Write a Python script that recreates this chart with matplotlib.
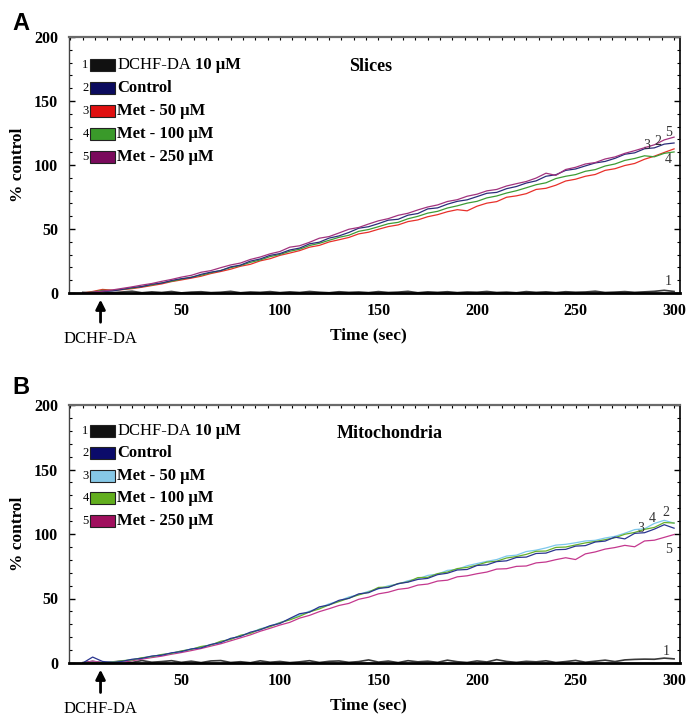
import numpy as np
import matplotlib
matplotlib.use("Agg")
import matplotlib.pyplot as plt
from matplotlib.patches import Rectangle
from matplotlib.ticker import MultipleLocator

plt.rcParams['font.family'] = ['Liberation Serif', 'DejaVu Serif']

# ---------------- data ----------------
time_s = np.arange(0, 301, 5)

legend_labels = ["DCHF-DA", "Control", "Met - 50 \u03bcM", "Met - 100 \u03bcM", "Met - 250 \u03bcM"]
legend_numbers = ["1", "2", "3", "4", "5"]

# Panel A: Slices
A_dchf = [0.5, 0.2, 1.1, 0.3, 0.8, 1.4, 0.2, 0.9, 0.4, 1.2, 0.1, 0.7, 1.0, 0.3, 0.6, 1.3, 0.2, 0.8, 0.5, 1.1,
          0.3, 0.9, 0.4, 1.2, 0.6, 0.2, 1.0, 0.5, 0.8, 0.3, 1.1, 0.4, 0.7, 1.3, 0.2, 0.9, 0.5, 1.0, 0.3, 0.8,
          0.6, 1.2, 0.4, 0.7, 0.2, 1.1, 0.5, 0.9, 0.3, 1.0, 0.6, 0.8, 1.4, 0.4, 0.7, 1.1, 0.5, 0.9, 1.3, 2.1, 1.2]
A_ctrl = [0, 0.4, 1.3, 1.6, 2.8, 4.3, 5.0, 6.9, 7.7, 9.8, 11.2, 12.1, 14.6, 16.3, 17.5, 20.4, 21.8, 24.9, 26.6, 29.4,
          30.8, 33.6, 35.1, 38.4, 39.7, 42.9, 44.6, 47.3, 50.6, 51.8, 54.2, 56.9, 57.6, 60.8, 62.1, 65.7, 66.5, 69.4,
          71.6, 72.8, 75.3, 77.9, 78.6, 81.5, 83.2, 85.9, 87.6, 91.2, 92.4, 95.8, 96.9, 99.3, 101.6, 102.8, 105.2,
          108.4, 109.5, 112.7, 113.4, 116.3, 117.2]
A_met50 = [0, 1.2, 2.8, 2.2, 2.6, 3.4, 4.5, 5.8, 7.1, 8.9, 10.2, 11.6, 13.1, 15.2, 16.8, 18.6, 20.9, 22.4, 25.1, 26.8,
           29.4, 31.2, 33.1, 35.8, 37.2, 39.9, 41.6, 43.4, 46.2, 47.5, 49.8, 51.9, 53.2, 55.8, 57.1, 59.6, 61.2, 63.5,
           65.1, 64.2, 67.8, 70.2, 71.4, 74.8, 75.9, 77.6, 80.9, 81.8, 84.2, 87.5, 88.9, 91.2, 92.6, 95.8, 97.1, 99.6,
           101.2, 104.5, 106.9, 109.8, 112.6]
A_met100 = [0, 0.8, 2.1, 1.9, 2.9, 3.8, 5.1, 6.3, 7.9, 9.2, 10.8, 12.4, 13.9, 15.8, 17.6, 19.8, 21.5, 23.9, 25.8, 28.4,
            30.1, 32.6, 34.2, 37.1, 38.8, 41.2, 43.5, 45.1, 48.2, 49.6, 51.8, 54.1, 55.2, 58.0, 59.9, 62.4, 63.8, 66.4,
            68.1, 70.2, 71.6, 74.3, 75.8, 78.1, 79.9, 82.2, 84.6, 86.1, 89.4, 91.2, 92.5, 95.1, 96.4, 99.2, 100.8, 103.6,
            105.1, 107.2, 106.4, 109.1, 110.2]
A_met250 = [0, 0.6, 1.5, 2.4, 3.6, 4.8, 6.2, 7.4, 9.1, 10.6, 12.4, 13.8, 16.2, 17.5, 19.8, 21.9, 23.4, 26.2, 28.1, 30.6,
            32.4, 35.8, 36.9, 39.6, 42.8, 44.1, 46.9, 49.8, 51.2, 53.9, 56.4, 58.1, 60.7, 62.3, 64.9, 67.2, 68.8, 71.5,
            72.9, 75.6, 77.2, 79.8, 80.9, 83.6, 85.4, 87.1, 89.8, 93.6, 91.9, 96.5, 98.2, 100.8, 101.9, 104.7, 106.3,
            109.1, 111.2, 113.5, 115.8, 119.6, 121.8]

# Panel B: Mitochondria
B_dchf = [0.3, 1.2, 0.2, 0.8, 1.5, 0.4, 1.9, 0.6, 1.1, 1.8, 0.5, 1.4, 0.3, 1.6, 1.9, 0.4, 1.0, 0.2, 1.7, 0.6,
          1.2, 0.3, 0.9, 1.8, 0.4, 1.3, 1.6, 0.5, 1.1, 2.4, 0.7, 1.5, 0.3, 1.8, 0.9, 1.4, 0.5, 2.2, 1.0, 0.4,
          1.6, 0.8, 2.6, 1.2, 0.5, 1.3, 0.9, 1.7, 0.4, 1.1, 2.0, 0.6, 1.4, 2.2, 1.1, 2.4, 2.8, 3.0, 2.9, 3.8, 3.2]
B_ctrl = [0, 4.6, 1.2, 0.4, 1.3, 2.9, 3.6, 5.4, 6.0, 7.9, 8.8, 10.9, 11.7, 14.4, 15.8, 19.1, 20.6, 23.9, 25.7, 28.9,
          30.6, 34.5, 38.2, 39.4, 43.5, 45.0, 48.6, 50.1, 53.6, 54.5, 57.8, 58.6, 61.5, 62.7, 64.8, 65.6, 68.5, 69.6,
          72.1, 72.5, 75.6, 76.1, 78.6, 79.2, 81.8, 82.1, 84.9, 85.2, 87.8, 88.1, 90.6, 91.0, 93.8, 94.5, 97.6, 96.2,
          100.5, 101.0, 103.8, 107.2, 104.5]
B_met50 = [0, 0.5, 0.2, 0.6, 1.5, 2.6, 3.9, 5.1, 6.4, 7.6, 9.2, 10.8, 12.5, 14.1, 16.4, 18.6, 21.2, 23.4, 26.5, 28.6,
           31.4, 33.8, 37.1, 40.2, 42.6, 45.9, 48.1, 51.2, 53.0, 55.6, 57.4, 59.9, 61.2, 63.8, 65.2, 67.9, 68.9, 71.8,
           72.6, 75.4, 77.1, 78.8, 80.2, 82.9, 83.6, 86.4, 87.5, 89.2, 91.4, 92.0, 93.2, 94.6, 95.1, 96.9, 98.2, 100.6,
           103.4, 104.1, 108.2, 110.6, 108.4]
B_met100 = [0, 0.3, 0.1, 0.5, 1.8, 2.4, 4.1, 4.9, 6.6, 7.4, 9.4, 10.5, 12.8, 13.9, 16.9, 18.2, 21.5, 22.9, 26.2, 28.1,
            31.2, 33.4, 36.2, 39.6, 41.9, 45.1, 47.6, 50.3, 52.8, 54.9, 58.6, 58.9, 61.6, 62.9, 66.2, 66.4, 69.3, 70.5,
            73.2, 74.1, 75.9, 78.2, 78.9, 81.4, 82.5, 84.2, 86.6, 86.8, 89.6, 89.9, 91.5, 93.1, 94.2, 95.6, 97.1, 99.8,
            101.2, 103.6, 105.1, 108.9, 108.5]
B_met250 = [0, 1.5, 0.3, 0.2, 0.9, 1.8, 3.0, 4.2, 5.3, 6.8, 8.1, 9.6, 11.2, 13.1, 14.9, 17.2, 19.5, 21.8, 24.6, 26.9,
            29.4, 31.5, 34.8, 36.9, 39.8, 42.1, 44.6, 46.2, 49.4, 51.0, 53.6, 54.9, 57.1, 58.0, 60.4, 61.2, 63.5, 64.2,
            66.8, 67.6, 69.2, 70.5, 72.8, 73.1, 74.9, 75.2, 77.6, 78.3, 80.1, 81.6, 80.2, 84.6, 86.1, 88.3, 89.5, 91.2,
            90.1, 94.6, 95.2, 97.4, 99.6]

# end-of-line number labels (x, y) in data units
A_end_labels = [("1", 297, 9), ("2", 292, 118), ("3", 286, 115), ("4", 297, 104), ("5", 297, 125)]
B_end_labels = [("1", 296, 9), ("2", 296, 117), ("3", 283, 104), ("4", 289, 112), ("5", 297, 88)]

x_ticks = [50, 100, 150, 200, 250, 300]
y_ticks = [0, 50, 100, 150, 200]

# styles
A_line_colors = ['#3a3a3a', '#2b2d7a', '#e8302a', '#3c9c34', '#a2327e']
A_patch_colors = ['#111111', '#0b0b5e', '#e01010', '#3a9a2a', '#7a0a5c']
B_line_colors = ['#3a3a3a', '#2a3590', '#7cc8ec', '#66b02a', '#c4388e']
B_patch_colors = ['#111111', '#0b0b6a', '#86c8e6', '#62ae1e', '#a0105e']

W, H = 689, 724
fig = plt.figure(figsize=(W / 100, H / 100), dpi=100)
axA = fig.add_axes([69 / W, 1 - 293 / H, 611 / W, 256 / H])
axB = fig.add_axes([69 / W, 1 - 663 / H, 611 / W, 258 / H])


def style_axis(ax):
    ax.set_xlim(-7, 303)
    ax.set_ylim(0, 200)
    ax.set_xticks(x_ticks)
    ax.set_yticks(y_ticks)
    ax.yaxis.set_minor_locator(MultipleLocator(10))
    ax.xaxis.set_minor_locator(MultipleLocator(6.25))
    ax.tick_params(axis='both', which='both', direction='in', top=True, right=True, bottom=False)
    ax.tick_params(axis='y', which='major', length=4, width=1, pad=8)
    ax.tick_params(axis='y', which='minor', length=2.5, width=0.8)
    ax.tick_params(axis='x', which='both', length=2.5, width=0.8, pad=7)
    for lab in ax.get_xticklabels() + ax.get_yticklabels():
        lab.set_fontweight('bold')
        lab.set_fontsize(11.5)
    ax.spines['bottom'].set_linewidth(2.0)
    ax.spines['top'].set_linewidth(1.6)
    ax.spines['top'].set_color('#6a6a6a')
    ax.spines['left'].set_linewidth(1.0)
    ax.spines['left'].set_color('#444444')
    ax.spines['right'].set_linewidth(1.2)
    ax.set_xlabel("Time (sec)", fontsize=12.5, fontweight='bold')
    ax.xaxis.set_label_coords(0.49, -0.135)
    ax.set_ylabel("% control", fontsize=12.5, fontweight='bold')
    ax.yaxis.set_label_coords(-0.07, 0.5)
    # DCHF-DA injection arrow
    ax.annotate("", xy=(9, -3), xytext=(9, -25), xycoords='data', textcoords='data',
                arrowprops=dict(arrowstyle='-|>', lw=2.0, color='black', mutation_scale=14),
                annotation_clip=False)
    ax.text(9, -36, "DCHF-DA", ha='center', va='center', fontsize=12, clip_on=False)


def draw_legend(ax, patch_colors, y0, dy):
    for i, (num, lab) in enumerate(zip(legend_numbers, legend_labels)):
        yc = y0 - i * dy
        ax.text(0.027, yc, num, transform=ax.transAxes, ha='center', va='center', fontsize=9)
        ax.add_patch(Rectangle((0.035, yc - 0.023), 0.04, 0.046, transform=ax.transAxes,
                               facecolor=patch_colors[i], edgecolor='#222222', lw=0.8))
        if i == 0:
            t1 = ax.text(0.079, yc, lab, transform=ax.transAxes, ha='left', va='center', fontsize=12)
            ax.annotate("10 \u03bcM", xy=(1, 0), xycoords=t1, xytext=(3, 0), textcoords='offset points',
                        ha='left', va='bottom', fontsize=12, fontweight='bold')
        else:
            ax.text(0.079, yc, lab, transform=ax.transAxes, ha='left', va='center', fontsize=12,
                    fontweight='bold')


# Panel A
A_series = [A_dchf, A_ctrl, A_met50, A_met100, A_met250]
order = [0, 2, 3, 1, 4]
for i in order:
    axA.plot(time_s, A_series[i], color=A_line_colors[i], lw=0.9 if i else 1.2, zorder=2)
style_axis(axA)
draw_legend(axA, A_patch_colors, 0.89, 0.09)
axA.text(0.493, 0.883, "Slices", transform=axA.transAxes, ha='center', va='center',
         fontsize=13, fontweight='bold')
for lab, x, y in A_end_labels:
    axA.text(x, y, lab, ha='center', va='center', fontsize=10, color='#333333')
fig.text(21 / W, 1 - 23 / H, "A", family=['Liberation Sans', 'DejaVu Sans'], fontweight='bold',
         fontsize=17, ha='center', va='center')

# Panel B
B_series = [B_dchf, B_ctrl, B_met50, B_met100, B_met250]
order = [0, 4, 2, 3, 1]
for i in order:
    axB.plot(time_s, B_series[i], color=B_line_colors[i], lw=0.9 if i else 1.2, zorder=2)
style_axis(axB)
draw_legend(axB, B_patch_colors, 0.90, 0.087)
axB.text(0.525, 0.891, "Mitochondria", transform=axB.transAxes, ha='center', va='center',
         fontsize=13, fontweight='bold')
for lab, x, y in B_end_labels:
    axB.text(x, y, lab, ha='center', va='center', fontsize=10, color='#333333')
fig.text(21 / W, 1 - 388 / H, "B", family=['Liberation Sans', 'DejaVu Sans'], fontweight='bold',
         fontsize=17, ha='center', va='center')

fig.savefig("out.png", dpi=100)
